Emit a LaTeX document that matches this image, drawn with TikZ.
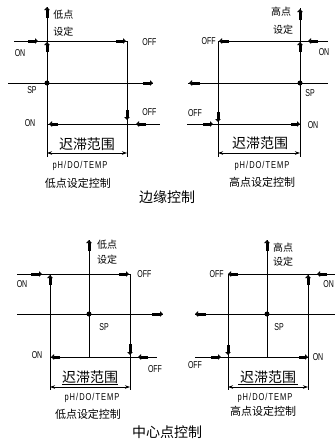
\documentclass[tikz,border=0pt]{standalone}
\usepackage{fontspec}
\usetikzlibrary{arrows.meta}
\newfontfamily\cjk{Noto Sans CJK SC}
\newfontfamily\nar[FakeStretch=0.7]{Liberation Sans}
\newfontfamily\narsp[FakeStretch=0.75,LetterSpace=10]{Liberation Sans}
\begin{document}
\begin{tikzpicture}[x=1pt,y=-1pt,line width=0.9pt,
  mk/.style={line width=3pt,-{Triangle[length=3pt,width=5.5pt]}},
  rng/.style={line width=0.8pt,{Stealth[length=5pt,width=3.5pt]}-{Stealth[length=5pt,width=3.5pt]}},
  lbl/.style={font=\nar\fontsize{10}{10}\selectfont,inner sep=0pt},
  cn/.style={font=\cjk\fontsize{10}{12}\selectfont,inner sep=0pt},
  big/.style={font=\cjk\fontsize{14}{14}\selectfont,inner sep=0pt},
  sub/.style={font=\cjk\fontsize{11}{11}\selectfont,inner sep=0pt},
  ph/.style={font=\narsp\fontsize{10}{10}\selectfont,inner sep=0pt}]
\useasboundingbox[fill=white] (0,0) rectangle (335,445);

% ---------- Panel 1: edge, low point ----------
\draw (47,7) -- (47,157);
\draw (14,41) -- (127,41) -- (127,157);
\draw (8,83) -- (153,83);
\draw (47,124) -- (160,124);
\draw[rng] (47,153) -- (127,153);
\fill (47,83) circle (2.5);
\draw[mk] (47,18) -- (47,7);
\draw[mk] (28,41) -- (38,41);
\draw[mk] (47,52) -- (47,42);
\draw[mk] (116,41) -- (126,41);
\draw[mk] (143,83) -- (153,83);
\draw[mk] (127,110) -- (127,120);
\draw[mk] (146,124) -- (136,124);
\draw[mk] (58,124) -- (49,124);
\node[cn,anchor=west] (p1a) at (53,15) {低点};
\node[cn,anchor=west] (p1b) at (53,32) {设定};
\node[lbl] (p1c) at (20,53) {ON};
\node[lbl,anchor=west] (p1d) at (142,42) {OFF};
\node[lbl] (p1e) at (32,90) {SP};
\node[lbl] (p1f) at (30,123) {ON};
\node[lbl,anchor=west] (p1g) at (142,112) {OFF};
\node[big] (p1h) at (87,144) {迟滞范围};
\node[ph] (p1i) at (80,166) {pH/DO/TEMP};
\node[sub] (p1j) at (78,183) {低点设定控制};
\node[big] (t1) at (167,197) {边缘控制};

% ---------- Panel 2: edge, high point ----------
\draw (300,8) -- (300,157);
\draw (328,41) -- (218,41) -- (218,157);
\draw (188,83) -- (328,83);
\draw (187,124) -- (300,124);
\draw[rng] (218,153) -- (300,153);
\fill (300,83) circle (2.5);
\draw[mk] (300,20) -- (300,9);
\draw[mk] (318,41) -- (308,41);
\draw[mk] (300,52) -- (300,42);
\draw[mk] (229,41) -- (219,41);
\draw[mk] (200,83) -- (189,83);
\draw[mk] (218,112) -- (218,122);
\draw[mk] (203,124) -- (213,124);
\draw[mk] (291,124) -- (300,124);
\node[cn] (p2a) at (281,12) {高点};
\node[cn] (p2b) at (283,30) {设定};
\node[lbl,anchor=east] (p2c) at (216,41) {OFF};
\node[lbl] (p2d) at (324,52) {ON};
\node[lbl] (p2e) at (310,93) {SP};
\node[lbl] (p2f) at (195,113) {OFF};
\node[lbl] (p2g) at (313,125) {ON};
\node[big] (p2h) at (260,143) {迟滞范围};
\node[ph] (p2i) at (262,166) {pH/DO/TEMP};
\node[sub] (p2j) at (262,182) {高点设定控制};

% ---------- Panel 3: centre, low point ----------
\draw (89,240) -- (89,357);
\draw (17,274) -- (130,274) -- (130,390);
\draw (50,274) -- (50,390);
\draw (17,314) -- (163,314);
\draw (50,357) -- (157,357);
\draw[rng] (50,387) -- (130,387);
\draw[line width=0.7pt] (62,384) -- (118,384);
\fill (89,314) circle (2.5);
\draw[mk] (89,251) -- (89,240);
\draw[mk] (31,274) -- (42,274);
\draw[mk] (50,285) -- (50,275);
\draw[mk] (119,274) -- (129,274);
\draw[mk] (152,314) -- (163,314);
\draw[mk] (130,344) -- (130,355);
\draw[mk] (148,357) -- (138,357);
\draw[mk] (60,357) -- (51,357);
\node[cn] (p3a) at (107,245) {低点};
\node[cn] (p3b) at (107,260) {设定};
\node[lbl] (p3c) at (22,284) {ON};
\node[lbl,anchor=west] (p3d) at (137,274) {OFF};
\node[lbl] (p3e) at (104,327) {SP};
\node[lbl] (p3f) at (37,355) {ON};
\node[lbl] (p3g) at (155,369) {OFF};
\node[big] (p3h) at (90,377) {迟滞范围};
\node[ph] (p3i) at (92,398) {pH/DO/TEMP};
\node[sub] (p3j) at (88,414) {低点设定控制};
\node[big] (t2) at (167,432) {中心点控制};

% ---------- Panel 4: centre, high point ----------
\draw (267,240) -- (267,357);
\draw (335,274) -- (228,274) -- (228,390);
\draw (308,274) -- (308,390);
\draw (195,314) -- (335,314);
\draw (195,357) -- (308,357);
\draw[rng] (228,387) -- (308,387);
\draw[line width=0.7pt] (238,384) -- (298,384);
\fill (267,314) circle (2.5);
\draw[mk] (267,251) -- (267,240);
\draw[mk] (238,274) -- (228,274);
\draw[mk] (327,274) -- (317,274);
\draw[mk] (308,285) -- (308,275);
\draw[mk] (206,314) -- (195,314);
\draw[mk] (228,345) -- (228,355);
\draw[mk] (211,357) -- (221,357);
\draw[mk] (299,357) -- (308,357);
\node[cn] (p4a) at (283,248) {高点};
\node[cn] (p4b) at (283,262) {设定};
\node[lbl,anchor=east] (p4c) at (224,274) {OFF};
\node[lbl,anchor=west] (p4d) at (323,284) {ON};
\node[lbl] (p4e) at (279,327) {SP};
\node[lbl] (p4f) at (195,365) {OFF};
\node[lbl] (p4g) at (318,357) {ON};
\node[big] (p4h) at (268,377) {迟滞范围};
\node[ph] (p4i) at (265,398) {pH/DO/TEMP};
\node[sub] (p4j) at (263,411) {高点设定控制};
\end{tikzpicture}
\end{document}
